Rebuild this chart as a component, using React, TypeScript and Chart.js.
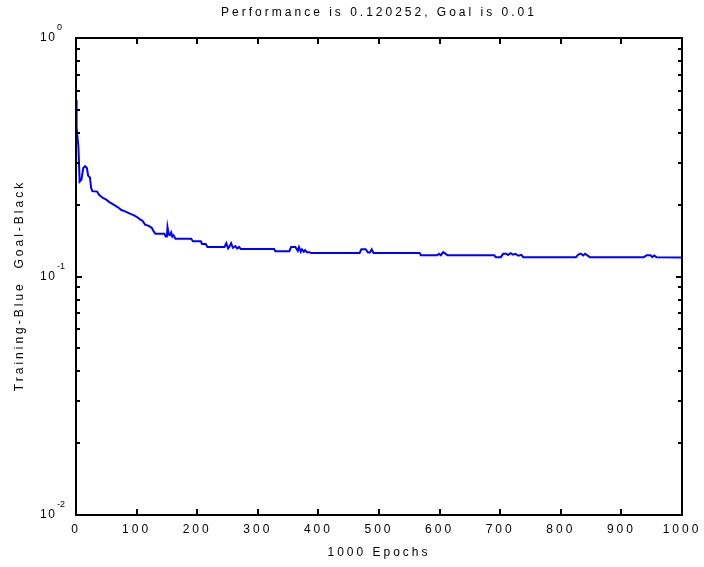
import React, { useEffect, useRef } from 'react';
import { Chart, registerables } from 'chart.js';

Chart.register(...registerables);

const TITLE = 'Performance is 0.120252, Goal is 0.01';
const X_LABEL = '1000 Epochs';
const Y_LABEL = 'Training-Blue  Goal-Black';
const X_TICKS = [0, 100, 200, 300, 400, 500, 600, 700, 800, 900, 1000];
const Y_DECADES = [0.01, 0.1, 1];
const Y_EXPONENTS = ['-2', '-1', '0'];
const Y_MINOR_MULT = [2, 3, 4, 5, 6, 7, 8, 9];

const EPOCHS = [
  0, 1, 4, 6, 9, 12, 15, 18, 20, 23, 25, 27, 35, 38, 45, 50, 55, 62, 68, 75,
  80, 88, 95, 100, 105, 110, 114, 120, 125, 128, 131, 146, 148, 150, 151, 153,
  155, 157, 159, 161, 164, 190, 193, 206, 208, 214, 217, 245, 248, 251, 253,
  256, 259, 263, 266, 269, 272, 327, 329, 352, 355, 362, 366, 368, 371, 373,
  376, 378, 381, 385, 388, 468, 471, 478, 482, 485, 488, 491, 567, 569, 596,
  599, 602, 606, 609, 613, 690, 693, 701, 705, 710, 713, 717, 721, 725, 730,
  735, 738, 825, 829, 833, 837, 840, 845, 848, 937, 942, 948, 951, 954, 958,
  1000,
];
const PERF = [
  0.55, 0.42, 0.35, 0.25, 0.255, 0.285, 0.29, 0.285, 0.265, 0.26, 0.235, 0.228,
  0.227, 0.22, 0.213, 0.21, 0.205, 0.2, 0.196, 0.19, 0.188, 0.184, 0.181, 0.178,
  0.174, 0.171, 0.165, 0.163, 0.16, 0.155, 0.151, 0.151, 0.147, 0.147, 0.161,
  0.15, 0.149, 0.153, 0.147, 0.149, 0.144, 0.144, 0.1405, 0.1405, 0.137, 0.137,
  0.133, 0.133, 0.138, 0.131, 0.133, 0.138, 0.132, 0.134, 0.131, 0.133, 0.1305,
  0.1305, 0.1277, 0.1277, 0.133, 0.133, 0.128, 0.133, 0.127, 0.13, 0.127, 0.129,
  0.1265, 0.1265, 0.1256, 0.1256, 0.13, 0.13, 0.126, 0.126, 0.13, 0.1256,
  0.1256, 0.1228, 0.1228, 0.1245, 0.1228, 0.1265, 0.125, 0.1228, 0.1228,
  0.1205, 0.1205, 0.1245, 0.1245, 0.123, 0.1252, 0.1235, 0.1245, 0.1222,
  0.1232, 0.1205, 0.1205, 0.1235, 0.1248, 0.1225, 0.1245, 0.122, 0.1205,
  0.1205, 0.1228, 0.1228, 0.1205, 0.1225, 0.1205, 0.120252,
];

const FONT_FAMILY = '"Liberation Sans", Arial, Helvetica, sans-serif';

const framePlugin = {
  id: 'matlabFrame',
  beforeDraw(chart: any) {
    chart.ctx.letterSpacing = '3px';
  },
  afterDraw(chart: any) {
    const { ctx, chartArea: a, scales } = chart;
    const xs = scales.x;
    const ys = scales.y;
    ctx.save();
    ctx.strokeStyle = '#000';
    ctx.lineWidth = 2;
    ctx.strokeRect(a.left, a.top, a.right - a.left, a.bottom - a.top);
    ctx.beginPath();
    X_TICKS.forEach((v) => {
      const px = Math.round(xs.getPixelForValue(v));
      ctx.moveTo(px, a.bottom);
      ctx.lineTo(px, a.bottom - 6);
      ctx.moveTo(px, a.top);
      ctx.lineTo(px, a.top + 6);
    });
    Y_DECADES.forEach((d, i) => {
      const py = Math.round(ys.getPixelForValue(d));
      ctx.moveTo(a.left, py);
      ctx.lineTo(a.left + 6, py);
      ctx.moveTo(a.right, py);
      ctx.lineTo(a.right - 6, py);
      if (i < Y_DECADES.length - 1) {
        Y_MINOR_MULT.forEach((m) => {
          const pm = Math.round(ys.getPixelForValue(d * m));
          ctx.moveTo(a.left, pm);
          ctx.lineTo(a.left + 4, pm);
          ctx.moveTo(a.right, pm);
          ctx.lineTo(a.right - 4, pm);
        });
      }
    });
    ctx.stroke();

    ctx.fillStyle = '#000';
    ctx.textBaseline = 'alphabetic';
    ctx.textAlign = 'left';
    Y_DECADES.forEach((d, i) => {
      const py = ys.getPixelForValue(d);
      ctx.letterSpacing = '1.5px';
      ctx.font = `12px ${FONT_FAMILY}`;
      ctx.fillText('10', 40, py + 3);
      ctx.letterSpacing = '0px';
      ctx.font = `9px ${FONT_FAMILY}`;
      ctx.fillText(Y_EXPONENTS[i], 57, py - 8);
    });

    // y-axis title
    ctx.letterSpacing = '3px';
    ctx.font = `12px ${FONT_FAMILY}`;
    ctx.textAlign = 'center';
    ctx.textBaseline = 'middle';
    ctx.translate(20, (a.top + a.bottom) / 2 + 9);
    ctx.rotate(-Math.PI / 2);
    ctx.fillText(Y_LABEL, 0, 0);
    ctx.restore();
  },
};

export default function App() {
  const canvasRef = useRef<HTMLCanvasElement | null>(null);

  useEffect(() => {
    const canvas = canvasRef.current;
    if (!canvas) return;
    const points = EPOCHS.map((e, i) => ({ x: e, y: PERF[i] }));
    const chart = new Chart(canvas, {
      type: 'line',
      data: {
        datasets: [
          {
            data: points,
            borderColor: '#0000ff',
            backgroundColor: '#0000ff',
            borderWidth: 2,
            pointRadius: 0,
            tension: 0,
            fill: false,
          },
        ],
      },
      options: {
        responsive: false,
        animation: false,
        events: [],
        layout: { padding: { left: 0, right: 22, top: 0, bottom: 0 } },
        plugins: {
          legend: { display: false },
          tooltip: { enabled: false },
          title: {
            display: true,
            fullSize: false,
            text: TITLE,
            color: '#000',
            font: { family: FONT_FAMILY, size: 12, weight: 'normal', lineHeight: 1.2 },
            padding: { top: 5, bottom: 18.6 },
          },
        },
        scales: {
          x: {
            type: 'linear',
            min: 0,
            max: 1000,
            afterBuildTicks: (s: any) => {
              s.ticks = X_TICKS.map((v) => ({ value: v }));
            },
            afterFit: (s: any) => {
              s.height = 52;
            },
            grid: { display: false, drawTicks: false },
            border: { display: false },
            ticks: {
              autoSkip: false,
              maxRotation: 0,
              padding: 7,
              color: '#000',
              font: { family: FONT_FAMILY, size: 12, lineHeight: 1.2 },
              callback: (v: any) => String(v),
            },
            title: {
              display: true,
              text: X_LABEL,
              color: '#000',
              font: { family: FONT_FAMILY, size: 12, lineHeight: 1.2 },
              padding: { top: 0, bottom: 7 },
            },
          },
          y: {
            type: 'logarithmic',
            min: 0.01,
            max: 1,
            afterFit: (s: any) => {
              s.width = 76;
            },
            grid: { display: false, drawTicks: false },
            border: { display: false },
            ticks: { display: false },
            title: { display: false },
          },
        },
      },
      plugins: [framePlugin],
    });
    return () => chart.destroy();
  }, []);

  return (
    <div style={{ position: 'absolute', left: 0, top: 0, width: 704, height: 567, background: '#fff' }}>
      <canvas ref={canvasRef} width={704} height={567} style={{ display: 'block' }} />
    </div>
  );
}
